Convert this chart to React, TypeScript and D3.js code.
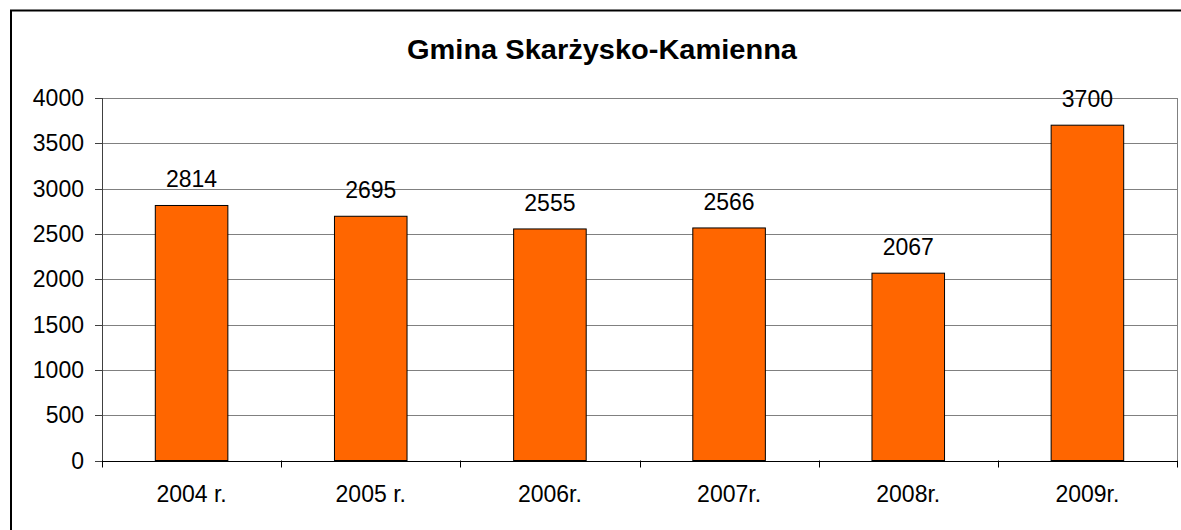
import React from 'react';
import * as d3 from 'd3';

const categories = ['2004 r.', '2005 r.', '2006r.', '2007r.', '2008r.', '2009r.'];
const values = [2814, 2695, 2555, 2566, 2067, 3700];
const yTicks = [0, 500, 1000, 1500, 2000, 2500, 3000, 3500, 4000];
const title = 'Gmina Skarżysko-Kamienna';

const App = () => {
  const width = 1181;
  const height = 530;
  const plot = { left: 102, right: 1177, top: 98, bottom: 460.5 };
  const font = 'Arial, "Liberation Sans", sans-serif';

  const x = d3.scaleBand()
    .domain(categories)
    .range([plot.left, plot.right])
    .paddingInner(0)
    .paddingOuter(0);

  const y = d3.scaleLinear()
    .domain([0, 4000])
    .range([plot.bottom, plot.top]);

  const bw = x.bandwidth();
  const barW = bw * 0.405;

  return (
    <svg width={width} height={height} style={{ position: 'absolute', left: 0, top: 0 }}>
      <rect x={0} y={0} width={width} height={height} fill="#fff" />
      {/* outer frame */}
      <rect x={11} y={10.5} width={width + 20} height={height + 20} fill="none" stroke="#000" strokeWidth={2} />
      <text x={602} y={59} textAnchor="middle" fontFamily={font} fontWeight="bold" fontSize={27}
        textLength={390} lengthAdjust="spacingAndGlyphs" fill="#000">
        {title}
      </text>

      {/* gridlines */}
      {yTicks.slice(1).map(t => (
        <line key={t} x1={plot.left} x2={plot.right} y1={Math.round(y(t)) + 0.5} y2={Math.round(y(t)) + 0.5} stroke="#808080" strokeWidth={1} />
      ))}
      <line x1={plot.right + 0.5} x2={plot.right + 0.5} y1={plot.top} y2={plot.bottom} stroke="#808080" strokeWidth={1} />

      {/* y axis */}
      <line x1={plot.left + 0.5} x2={plot.left + 0.5} y1={plot.top} y2={plot.bottom + 6} stroke="#404040" strokeWidth={1} />
      {yTicks.map(t => (
        <g key={t}>
          <line x1={95} x2={plot.left} y1={Math.round(y(t)) + 0.5} y2={Math.round(y(t)) + 0.5} stroke="#404040" />
          <text x={84} y={y(t) + 8} textAnchor="end" fontFamily={font} fontSize={23} fill="#000">{t}</text>
        </g>
      ))}

      {/* bars */}
      {categories.map((c, i) => {
        const cx = (x(c) as number) + bw / 2;
        return (
          <g key={c}>
            <rect x={cx - barW / 2} y={y(values[i])} width={barW} height={plot.bottom - y(values[i])} fill="#FF6600" stroke="#000" strokeWidth={1} />
            <text x={cx} y={y(values[i]) - 18} textAnchor="middle" fontFamily={font} fontSize={23} fill="#000">{values[i]}</text>
          </g>
        );
      })}

      {/* x axis */}
      <line x1={plot.left} x2={plot.right + 1} y1={Math.round(plot.bottom) + 0.5} y2={Math.round(plot.bottom) + 0.5} stroke="#000" strokeWidth={1} />
      {categories.concat(['end']).map((c, i) => {
        const tx = Math.round(plot.left + i * bw) + 0.5;
        return <line key={c} x1={tx} x2={tx} y1={plot.bottom} y2={plot.bottom + 7} stroke="#000" />;
      })}
      {categories.map(c => (
        <text key={c} x={(x(c) as number) + bw / 2} y={502} textAnchor="middle" fontFamily={font} fontSize={23} fill="#000">{c}</text>
      ))}
    </svg>
  );
};

export default App;
